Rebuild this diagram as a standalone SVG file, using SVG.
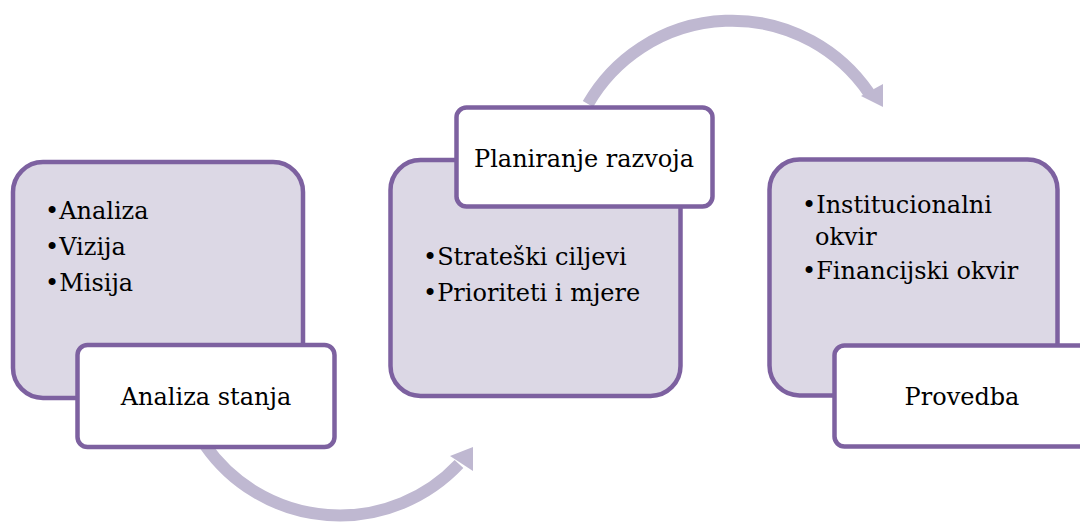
<svg xmlns="http://www.w3.org/2000/svg" width="1080" height="526" viewBox="0 0 1080 526">
<style>
.outer{fill:#DCD8E5;stroke:#7D61A0;stroke-width:4.5}
.inner{fill:#FFFFFF;stroke:#7D61A0;stroke-width:4.5}
.arc{fill:none;stroke:#BFB8D1;stroke-width:12}
.head{fill:#BFB8D1}
text{font-family:"DejaVu Serif","Liberation Serif",serif;font-size:24px;fill:#000}
.c{text-anchor:middle}
</style>
<rect width="1080" height="526" fill="#FFFFFF"/>
<g id="connectors">
<path class="arc" d="M 205 445 A 164 164 0 0 0 459 464"/>
<polygon class="head" points="473,447 450,456 473,471"/>
<path class="arc" d="M 588 104 A 166 166 0 0 1 869 93"/>
<polygon class="head" points="883,84 861,96 883,107"/>
</g>
<g id="node1">
<rect class="outer" x="13" y="162" width="290" height="236" rx="30"/>
<text x="45" y="219">•Analiza</text>
<text x="45" y="255">•Vizija</text>
<text x="45" y="291">•Misija</text>
</g>
<g id="label1">
<rect class="inner" x="77.5" y="345" width="257" height="102" rx="10"/>
<text class="c" x="206" y="405">Analiza stanja</text>
</g>
<g id="node2">
<rect class="outer" x="390.5" y="160" width="290" height="236" rx="30"/>
<text x="423" y="265">•Strateški ciljevi</text>
<text x="423" y="301">•Prioriteti i mjere</text>
</g>
<g id="label2">
<rect class="inner" x="456.5" y="107.5" width="256" height="99" rx="10"/>
<text class="c" x="584" y="167">Planiranje razvoja</text>
</g>
<g id="node3">
<rect class="outer" x="769.5" y="159.5" width="288" height="236" rx="30"/>
<text x="802" y="213">•Institucionalni</text>
<text x="815" y="245">okvir</text>
<text x="802" y="279">•Financijski okvir</text>
</g>
<g id="label3">
<rect class="inner" x="834.5" y="345.5" width="257" height="101" rx="10"/>
<text class="c" x="962" y="405">Provedba</text>
</g>
</svg>
